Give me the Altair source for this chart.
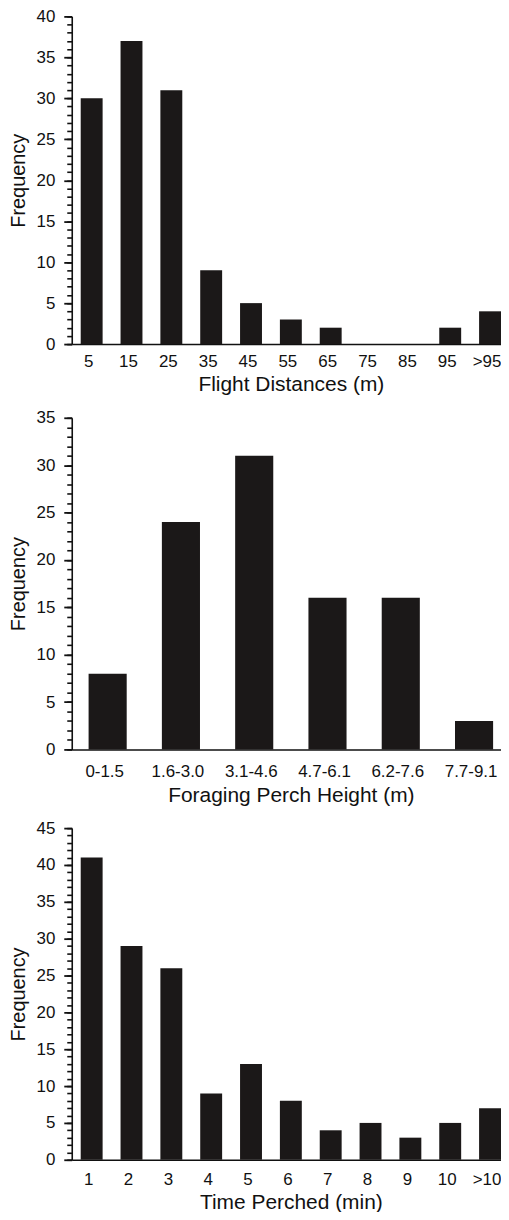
import altair as alt
import pandas as pd

# ---- data ----
dist_cats = ["5", "15", "25", "35", "45", "55", "65", "75", "85", "95", ">95"]
dist_vals = [30, 37, 31, 9, 5, 3, 2, 0, 0, 2, 4]

height_cats = ["0-1.5", "1.6-3.0", "3.1-4.6", "4.7-6.1", "6.2-7.6", "7.7-9.1"]
height_vals = [8, 24, 31, 16, 16, 3]

time_cats = ["1", "2", "3", "4", "5", "6", "7", "8", "9", "10", ">10"]
time_vals = [41, 29, 26, 9, 13, 8, 4, 5, 3, 5, 7]

FONT = "Liberation Sans"
BAR = "#1b1818"
INK = "#111111"


def panel(cats, vals, xtitle, ymax, h, pad_inner, pad_outer, label_pad, title_pad):
    df = pd.DataFrame({"cat": cats, "freq": vals})
    xenc = alt.X(
        "cat:N",
        sort=cats,
        title=xtitle,
        scale=alt.Scale(paddingInner=pad_inner, paddingOuter=pad_outer),
        axis=alt.Axis(
            labelAngle=0,
            ticks=False,
            tickSize=0,
            labelPadding=label_pad,
            labelOffset=-3,
            titlePadding=title_pad,
            domainColor=INK,
            domainWidth=1.6,
            labelFont=FONT,
            labelFontSize=17,
            labelColor=INK,
            titleFont=FONT,
            titleFontSize=21,
            titleFontWeight="normal",
            titleColor=INK,
        ),
    )
    yscale = alt.Scale(domain=[0, ymax], nice=False, zero=True)
    # main axis: a tick at every unit, labels only at multiples of 5
    bars = alt.Chart(df).mark_bar(color=BAR).encode(
        x=xenc,
        y=alt.Y(
            "freq:Q",
            title="Frequency",
            scale=yscale,
            axis=alt.Axis(
                orient="left",
                values=list(range(0, ymax + 1)),
                labelExpr="datum.value % 5 === 0 ? datum.label : ''",
                ticks=True,
                tickSize=5,
                tickColor=INK,
                tickWidth=1.6,
                labelPadding=12,
                titlePadding=8,
                domainColor=INK,
                domainWidth=1.6,
                grid=False,
                labelFont=FONT,
                labelFontSize=17,
                labelColor=INK,
                titleFont=FONT,
                titleFontSize=20,
                titleFontWeight="normal",
                titleColor=INK,
            ),
        ),
    )
    # second axis on the same scale: longer ticks at multiples of 5
    major = alt.Chart(df).mark_bar(opacity=0).encode(
        x=xenc,
        y=alt.Y(
            "freq:Q",
            title=None,
            scale=yscale,
            axis=alt.Axis(
                orient="left",
                values=list(range(0, ymax + 1, 5)),
                ticks=True,
                tickSize=8,
                tickColor=INK,
                tickWidth=1.8,
                labels=False,
                domain=False,
                grid=False,
            ),
        ),
    )
    return alt.layer(bars, major).resolve_axis(y="independent").properties(width=440, height=h)


c1 = panel(dist_cats, dist_vals, "Flight Distances (m)", 40, 329, 0.45, 0.225, 10, 4)
c2 = panel(height_cats, height_vals, "Foraging Perch Height (m)", 35, 333, 0.48, 0.23, 14, 5)
c3 = panel(time_cats, time_vals, "Time Perched (min)", 45, 333, 0.45, 0.225, 12, 4)

chart = alt.vconcat(c1, c2, c3, spacing=14).properties(
    padding={"left": 0, "top": -3, "right": -9, "bottom": -3},
    background="white",
).configure_view(stroke=None)

chart.save("out.html", embed_options={"renderer": "svg", "actions": False})
